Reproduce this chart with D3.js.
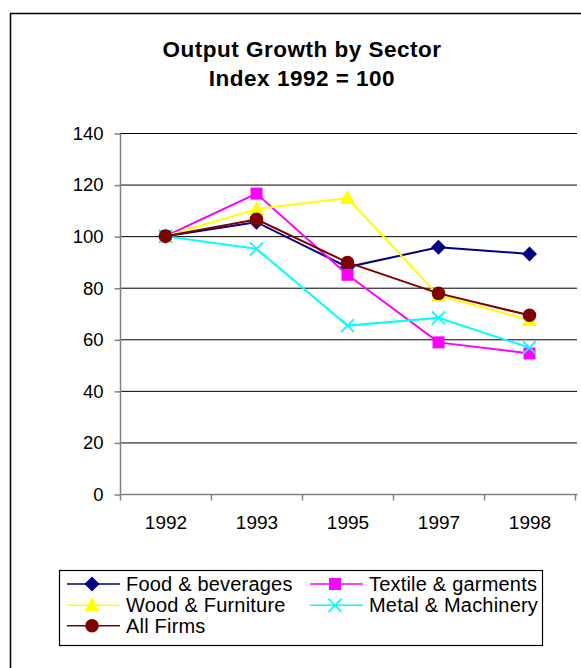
<!DOCTYPE html>
<html>
<head>
<meta charset="utf-8">
<script src="https://cdn.jsdelivr.net/npm/d3@7"></script>
<style>
  body { margin: 0; background: #fff; }
  text { font-family: Arial, "Liberation Sans", sans-serif; fill: #000; }
</style>
</head>
<body>
<script>
// data
var years = ["1992", "1993", "1995", "1997", "1998"];
var food = [100, 105.4, 88, 95.7, 93.1];
var textile = [100, 116.5, 85, 58.8, 54.5];
var wood = [100, 110.5, 114.8, 77, 67.5];
var metal = [100, 95.1, 65.3, 68.3, 56.8];
var allFirms = [100, 106.5, 89.8, 77.8, 69.3];
var yTicks = [0, 20, 40, 60, 80, 100, 120, 140];

var seriesNames = ["Food & beverages", "Textile & garments", "Wood & Furniture", "Metal & Machinery", "All Firms"];
var seriesVals = [food, textile, wood, metal, allFirms];
var colors = ["#000080", "#ff00ff", "#ffff00", "#00ffff", "#800000"];
var shapes = ["diamond", "square", "triangle", "cross", "circle"];

var width = 581, height = 668;

var svg = d3.select("body").append("svg")
    .attr("width", width)
    .attr("height", height);

// outer frame (runs off the right and bottom)
svg.append("rect")
    .attr("x", 10.5).attr("y", 13.5)
    .attr("width", 700).attr("height", 800)
    .attr("fill", "none").attr("stroke", "#000").attr("stroke-width", 1.5);

// title
var title = svg.append("text")
    .attr("text-anchor", "middle")
    .style("font-weight", "bold")
    .style("font-size", "22.5px")
    .style("letter-spacing", "0.5px");
title.append("tspan").attr("x", 302).attr("y", 56.5).text("Output Growth by Sector");
title.append("tspan").attr("x", 302).attr("y", 85.5).text("Index 1992 = 100");

// scales
var x = d3.scaleBand().domain(years).range([120, 575]);
var y = d3.scaleLinear().domain([0, 140]).range([494, 133]);

// gridlines
svg.append("g").selectAll("line")
    .data(yTicks.filter(function(d){ return d > 0; }))
    .enter().append("line")
    .attr("x1", 120).attr("x2", 577)
    .attr("y1", function(d){ return y(d) + 0.5; })
    .attr("y2", function(d){ return y(d) + 0.5; })
    .attr("stroke", "#000").attr("stroke-width", 1);

// y axis
var yAxis = svg.append("g")
    .attr("transform", "translate(120.5,0.5)")
    .call(d3.axisLeft(y).tickValues(yTicks).tickSize(6).tickPadding(11));
yAxis.selectAll("text").style("font-size", "18.5px");
yAxis.selectAll("line, path").attr("stroke", "#808080").attr("stroke-width", 1.5);
yAxis.select(".domain").attr("d", "M0," + y(140) + "V" + y(0));

// x axis
var xAxis = svg.append("g")
    .attr("transform", "translate(0.5," + (y(0) + 0.5) + ")")
    .call(d3.axisBottom(x).tickSize(0).tickPadding(21));
xAxis.selectAll("text").style("font-size", "19px");
xAxis.select(".domain").attr("d", "M120,0H577").attr("stroke", "#808080").attr("stroke-width", 1.5);
// ticks between categories
xAxis.selectAll(".sep")
    .data(years.concat(["end"]))
    .enter().append("line")
    .attr("x1", function(d, i){ return 120 + i * x.step(); })
    .attr("x2", function(d, i){ return 120 + i * x.step(); })
    .attr("y1", 0).attr("y2", 6)
    .attr("stroke", "#808080").attr("stroke-width", 1.5);

// marker drawing
function drawMarker(g, shape, color, cx, cy, s) {
    s = s || 1;
    if (shape == "diamond") {
        g.append("path").attr("d", "M0,-7.5L7.5,0L0,7.5L-7.5,0Z")
            .attr("transform", "translate(" + cx + "," + cy + ") scale(" + s + ")")
            .attr("fill", color);
    } else if (shape == "square") {
        g.append("rect").attr("x", cx - 6 * s).attr("y", cy - 6 * s)
            .attr("width", 12 * s).attr("height", 12 * s).attr("fill", color);
    } else if (shape == "triangle") {
        g.append("path").attr("d", "M0,-8L7.5,6L-7.5,6Z")
            .attr("transform", "translate(" + cx + "," + cy + ") scale(" + s + ")")
            .attr("fill", color);
    } else if (shape == "cross") {
        g.append("path").attr("d", "M-6.5,-6.5L6.5,6.5M-6.5,6.5L6.5,-6.5")
            .attr("transform", "translate(" + cx + "," + cy + ") scale(" + s + ")")
            .attr("stroke", color).attr("stroke-width", 1.8).attr("fill", "none");
    } else {
        g.append("circle").attr("cx", cx).attr("cy", cy).attr("r", 6.8 * s).attr("fill", color);
    }
}

var line = d3.line()
    .x(function(d, i){ return x(years[i]) + x.bandwidth() / 2; })
    .y(function(d){ return y(d); });

seriesVals.forEach(function(vals, k){
    var g = svg.append("g");
    g.append("path")
        .datum(vals)
        .attr("d", line)
        .attr("fill", "none")
        .attr("stroke", colors[k])
        .attr("stroke-width", 2);
    vals.forEach(function(v, i){
        drawMarker(g, shapes[k], colors[k], x(years[i]) + x.bandwidth() / 2, y(v));
    });
});

// legend
var legend = svg.append("g");
legend.append("rect")
    .attr("x", 59.5).attr("y", 570.5)
    .attr("width", 483).attr("height", 75)
    .attr("fill", "#fff").attr("stroke", "#000").attr("stroke-width", 1.2);

var legPos = [[67, 584], [310, 584], [67, 605.3], [310, 605.3], [67, 625.7]];
seriesNames.forEach(function(name, k){
    var lx = legPos[k][0], ly = legPos[k][1];
    var g = legend.append("g");
    g.append("line")
        .attr("x1", lx).attr("x2", lx + 53)
        .attr("y1", ly).attr("y2", ly)
        .attr("stroke", colors[k]).attr("stroke-width", 1.5);
    drawMarker(g, shapes[k], colors[k], lx + 25, ly, 1);
    g.append("text")
        .attr("x", lx + 59).attr("y", ly + 7)
        .style("font-size", "20px")
        .style("letter-spacing", "0.2px")
        .text(name);
});
</script>
</body>
</html>
